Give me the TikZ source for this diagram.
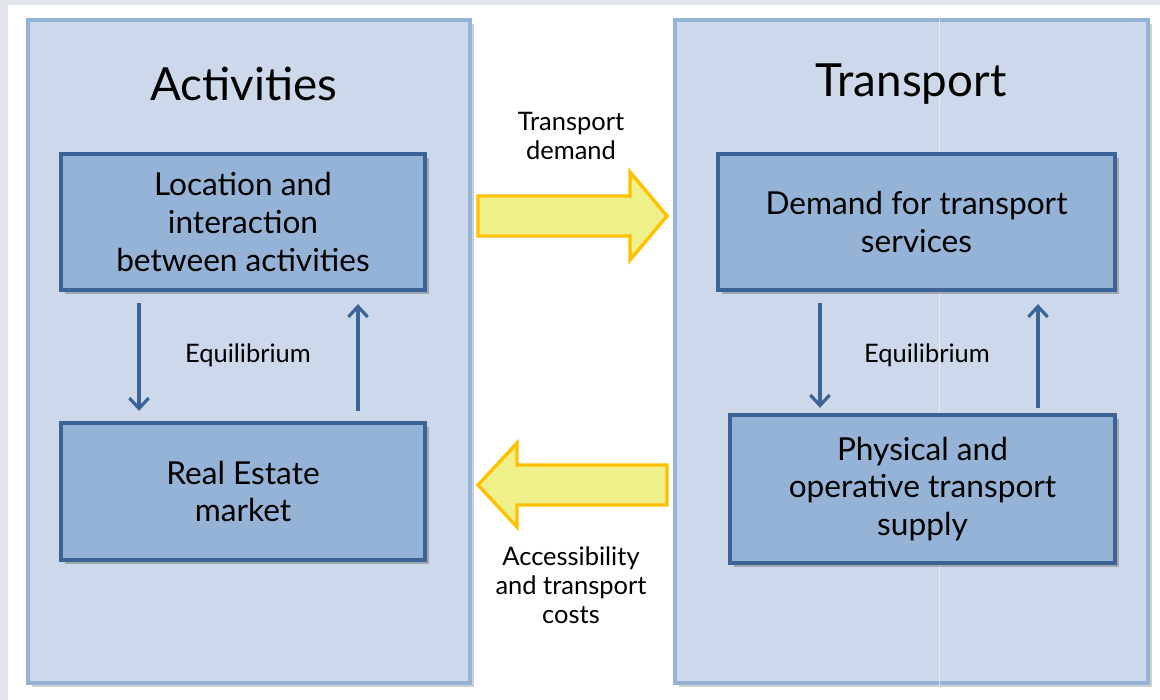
\documentclass[tikz,border=0pt]{standalone}
\usepackage{fontspec}
\setmainfont{Lato}
\usetikzlibrary{arrows.meta,shadows,calc}
\definecolor{panelfill}{HTML}{CDD9EA}
\definecolor{paneledge}{HTML}{95B3D7}
\definecolor{boxfill}{HTML}{95B3D7}
\definecolor{boxedge}{HTML}{3A6396}
\definecolor{arrfill}{HTML}{F0F08A}
\definecolor{arredge}{HTML}{FFC000}
\definecolor{frame}{HTML}{E2E5EA}
\newcommand{\pxu}{0.02cm}
\tikzset{
  panel/.style={draw=paneledge,fill=panelfill,line width=1.9pt,inner sep=0,
    drop shadow={shadow xshift=2.5pt,shadow yshift=-2.5pt,opacity=0.3,fill=black!60}},
  box/.style={draw=boxedge,fill=boxfill,line width=2.4pt,inner sep=0,align=center,
    font=\fontsize{18}{21.5}\selectfont,
    drop shadow={shadow xshift=2pt,shadow yshift=-2.5pt,opacity=0.35,fill=black!70}},
  title/.style={font=\fontsize{26}{30}\selectfont},
  lbl/.style={align=center,font=\fontsize{14.5}{16.5}\selectfont},
  eqarrow/.style={draw=boxedge,line width=2.1pt,-{Straight Barb[length=6pt,width=11pt,line width=1.8pt]}},
  blockarrow/.style={draw=arredge,fill=arrfill,line width=1.9pt,line join=miter}
}
\begin{document}
\begin{tikzpicture}[x=0.02cm,y=-0.02cm]
\useasboundingbox (0,0) rectangle (1160,700);
\fill[white] (0,0) rectangle (1160,700);
\fill[frame] (0,0) rectangle (1160,5);
\fill[frame] (0,0) rectangle (8,700);
% panels
\node[panel,minimum width=442*\pxu,minimum height=663*\pxu] (act) at (249,351.5) {};
\node[panel,minimum width=473*\pxu,minimum height=663*\pxu] (tra) at (911.5,351.5) {};
\draw[white,opacity=0.5,line width=0.4pt] (939,5) -- (939,700);
% titles
\node[title] (actt) at (244,84) {Activities};
\node[title] (trat) at (911,84) {Transport};
% boxes
\node[box,minimum width=364*\pxu,minimum height=136*\pxu] (loc) at (243,222) {Location and\\interaction\\between activities};
\node[box,minimum width=364*\pxu,minimum height=137*\pxu] (re) at (243,491.5) {Real Estate\\market};
\node[box,minimum width=397*\pxu,minimum height=136*\pxu] (dem) at (916.5,222) {Demand for transport\\services};
\node[box,minimum width=385*\pxu,minimum height=148*\pxu] (sup) at (922.5,489) {Physical and\\operative transport\\supply};
% equilibrium arrows
\draw[eqarrow] ($(loc.south -| 139,0)+(0,11)$) -- ($(re.north -| 139,0)+(0,-10)$);
\draw[eqarrow] ($(re.north -| 358,0)+(0,-10)$) -- ($(loc.south -| 358,0)+(0,12)$);
\draw[eqarrow] ($(dem.south -| 820,0)+(0,11)$) -- ($(sup.north -| 820,0)+(0,-5)$);
\draw[eqarrow] ($(sup.north -| 1038,0)+(0,-5)$) -- ($(dem.south -| 1038,0)+(0,12)$);
\node[lbl] (eq1) at (248,355) {Equilibrium};
\node[lbl] (eq2) at (927,355) {Equilibrium};
% block arrows
\coordinate (tdtip) at (667,216);
\draw[blockarrow] (478,196) -- (630,196) -- (630,172) -- (tdtip) -- (630,260) -- (630,236) -- (478,236) -- cycle;
\coordinate (actip) at (478,485);
\draw[blockarrow] (actip) -- (517,443) -- (517,465) -- (667,465) -- (667,505) -- (517,505) -- (517,527) -- cycle;
\node[lbl] (td) at (571,136) {Transport\\demand};
\node[lbl] (ac) at (571,585) {Accessibility\\and transport\\costs};
\end{tikzpicture}
\end{document}
